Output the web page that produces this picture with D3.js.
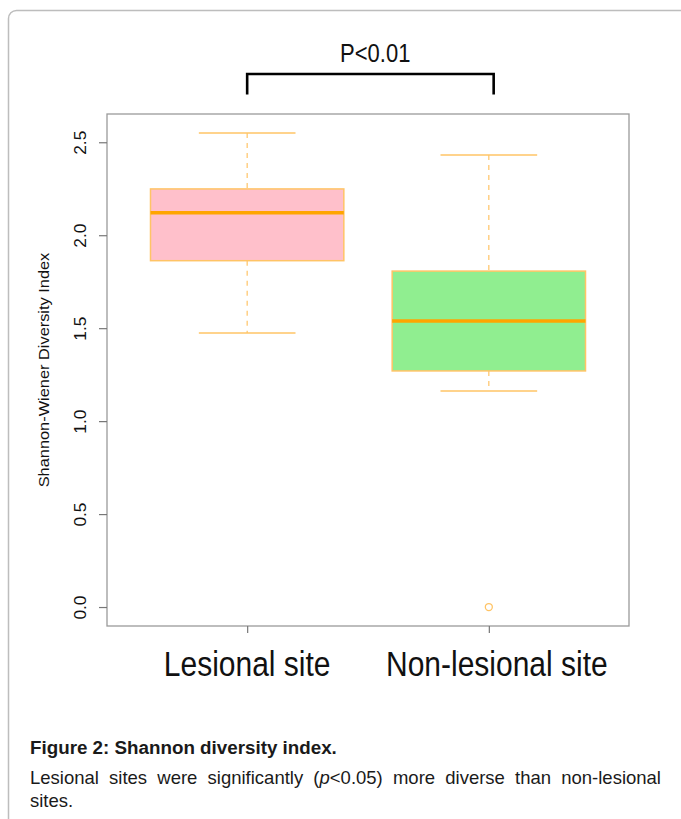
<!DOCTYPE html>
<html>
<head>
<meta charset="utf-8">
<script src="https://cdn.jsdelivr.net/npm/d3@7"></script>
<style>
  body { margin: 0; background: #fff; }
  svg { position: absolute; left: 0; top: 0; }
  .caption { position: absolute; left: 30px; top: 736px; width: 631px;
    font-family: "Liberation Sans", Arial, sans-serif; color: #1a1a1a; }
  .caption .title { font-weight: bold; font-size: 18.8px; line-height: 24px; margin-bottom: 6px; }
  .caption .body { font-size: 18.5px; line-height: 23px; white-space: nowrap; }
  .caption .full { text-align: justify; text-align-last: justify; }
</style>
</head>
<body>
<svg width="681" height="819"></svg>
<script>
// Box plot data
const categories = ["Lesional site", "Non-lesional site"];
const whiskerLow = [1.474, 1.162];
const q1 = [1.863, 1.270];
const median = [2.121, 1.538];
const q3 = [2.249, 1.807];
const whiskerHigh = [2.550, 2.431];
const outliers = [[], [0.0]];
const yTicks = [0, 0.5, 1.0, 1.5, 2.0, 2.5];
const boxFills = ["#FFC0CB", "#90EE90"];

const plot = {left: 107, right: 629, top: 114, bottom: 626};
const stretch = 1.17; // the original figure is a bit taller than wide
const font = "'Liberation Sans', Arial, sans-serif";

const svg = d3.select("svg");

// page frame
svg.append("rect")
  .attr("x", 8.5).attr("y", 10.5)
  .attr("width", 720).attr("height", 900)
  .attr("rx", 8)
  .attr("fill", "none")
  .attr("stroke", "#bdbdbd")
  .attr("stroke-width", 1.5);

const x = d3.scaleLinear()
  .domain([0.42, 2.58])
  .range([plot.left, plot.right]);

const y = d3.scaleLinear()
  .domain([-0.102, 2.652])
  .range([plot.bottom, plot.top]);

const data = categories.map((c, i) => ({
  name: c, pos: i + 1,
  lo: whiskerLow[i], q1: q1[i], med: median[i], q3: q3[i], hi: whiskerHigh[i],
  out: outliers[i], fill: boxFills[i]
}));

const boxHalf = 0.4;
const capHalf = 0.2;
const boxes = svg.append("g").selectAll("g").data(data).join("g");

// dashed whiskers
boxes.append("line")
  .attr("x1", d => x(d.pos)).attr("x2", d => x(d.pos))
  .attr("y1", d => y(d.hi)).attr("y2", d => y(d.q3))
  .attr("stroke", "#FFC466").attr("stroke-width", 1.2)
  .attr("stroke-dasharray", "5,5");
boxes.append("line")
  .attr("x1", d => x(d.pos)).attr("x2", d => x(d.pos))
  .attr("y1", d => y(d.q1)).attr("y2", d => y(d.lo))
  .attr("stroke", "#FFC466").attr("stroke-width", 1.2)
  .attr("stroke-dasharray", "5,5");

// caps
["hi", "lo"].forEach(k => {
  boxes.append("line")
    .attr("x1", d => x(d.pos - capHalf)).attr("x2", d => x(d.pos + capHalf))
    .attr("y1", d => y(d[k])).attr("y2", d => y(d[k]))
    .attr("stroke", "#FFC466").attr("stroke-width", 1.5);
});

// boxes
boxes.append("rect")
  .attr("x", d => x(d.pos - boxHalf))
  .attr("width", d => x(d.pos + boxHalf) - x(d.pos - boxHalf))
  .attr("y", d => y(d.q3))
  .attr("height", d => y(d.q1) - y(d.q3))
  .attr("fill", d => d.fill)
  .attr("stroke", "#FFC466").attr("stroke-width", 1.5);

// medians
boxes.append("line")
  .attr("x1", d => x(d.pos - boxHalf)).attr("x2", d => x(d.pos + boxHalf))
  .attr("y1", d => y(d.med)).attr("y2", d => y(d.med))
  .attr("stroke", "#FFA500").attr("stroke-width", 3.5);

// outliers
boxes.selectAll("circle").data(d => d.out.map(v => ({pos: d.pos, v})))
  .join("circle")
  .attr("cx", d => x(d.pos)).attr("cy", d => y(d.v))
  .attr("r", 3.5)
  .attr("fill", "none").attr("stroke", "#FFC466").attr("stroke-width", 1.3);

// plot frame
svg.append("rect")
  .attr("x", plot.left).attr("y", plot.top)
  .attr("width", plot.right - plot.left).attr("height", plot.bottom - plot.top)
  .attr("fill", "none").attr("stroke", "#9a9a9a").attr("stroke-width", 1.3);

// y axis
const yAxis = svg.append("g")
  .attr("transform", `translate(${plot.left},0)`)
  .call(d3.axisLeft(y).tickValues(yTicks).tickSize(8).tickFormat(d3.format(".1f")))
  .call(g => g.select(".domain").remove());
yAxis.selectAll(".tick line").attr("stroke", "#777").attr("stroke-width", 1.2);
yAxis.selectAll(".tick text")
  .attr("x", null)
  .attr("text-anchor", "middle")
  .attr("transform", `translate(-27,0) scale(1,1.05) rotate(-90)`)
  .attr("dy", "0.35em")
  .attr("fill", "#111")
  .style("font-family", font)
  .style("font-size", "16.5px");

// x axis
const xAxis = svg.append("g")
  .attr("transform", `translate(0,${plot.bottom})`)
  .call(d3.axisBottom(x).tickValues([1, 2]).tickSize(7).tickFormat(""))
  .call(g => g.select(".domain").remove());
xAxis.selectAll(".tick line").attr("stroke", "#777").attr("stroke-width", 1.2);

// category labels (the second one sits a little right of its tick in the original)
const labelShift = [0, 8];
svg.append("g").selectAll("text").data(data).join("text")
  .attr("transform", (d, i) => `translate(${x(d.pos) + labelShift[i]},676) scale(1,${stretch})`)
  .attr("text-anchor", "middle")
  .attr("fill", "#111")
  .style("font-family", font)
  .style("font-size", "30px")
  .text(d => d.name);

// y axis title
svg.append("text")
  .attr("transform", `translate(49,${(plot.top + plot.bottom) / 2}) scale(1,${stretch}) rotate(-90)`)
  .attr("text-anchor", "middle")
  .attr("fill", "#111")
  .style("font-family", font)
  .style("font-size", "14px")
  .text("Shannon-Wiener Diversity Index");

// significance bracket
const bracketTop = 2.867, bracketLeg = 2.757;
svg.append("path")
  .attr("d", d3.line()([
    [x(1), y(bracketLeg)], [x(1), y(bracketTop)],
    [x(2.02), y(bracketTop)], [x(2.02), y(bracketLeg)]
  ]))
  .attr("fill", "none").attr("stroke", "#000").attr("stroke-width", 2.6);

svg.append("text")
  .attr("transform", `translate(${x(1.53)},${y(2.93)}) scale(1,${stretch})`)
  .attr("text-anchor", "middle")
  .attr("fill", "#111")
  .style("font-family", font)
  .style("font-size", "22px")
  .text("P<0.01");

// caption
const cap = d3.select("body").append("div").attr("class", "caption");
cap.append("div").attr("class", "title").text("Figure 2: Shannon diversity index.");
cap.append("div").attr("class", "body full")
  .html("Lesional sites were significantly (<i>p</i>&lt;0.05) more diverse than non-lesional");
cap.append("div").attr("class", "body").text("sites.");
</script>
</body>
</html>
